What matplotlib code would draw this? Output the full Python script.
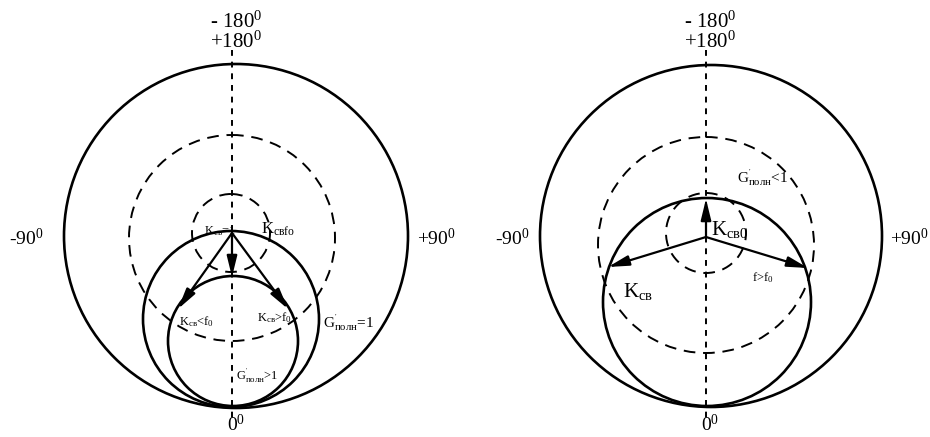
import matplotlib
matplotlib.use("Agg")
import matplotlib.pyplot as plt
from matplotlib.patches import Circle

plt.rcParams['font.family'] = ['Liberation Serif', 'DejaVu Serif']
plt.rcParams['mathtext.fontset'] = 'custom'
plt.rcParams['mathtext.rm'] = 'Liberation Serif'
plt.rcParams['mathtext.it'] = 'Liberation Serif:italic'

# left diagram (pixel units)
left_axis_x = 232
left_solid = [(236, 236, 172), (231, 319, 88), (233, 341, 65)]
left_dashed = [(232, 238, 103), (231, 233, 39)]
left_origin = (232, 233)
left_tips = [(232, 277), (178, 309), (288, 309)]

# right diagram
right_axis_x = 706
right_solid = [(711, 236, 171), (707, 302, 104)]
right_dashed = [(706, 245, 108), (706, 233, 40)]
right_origin = (706, 237)
right_tips = [(706, 199), (608, 267), (808, 268)]

fig = plt.figure(figsize=(9.3, 4.37), dpi=100)
ax = fig.add_axes([0, 0, 1, 1])
ax.set_xlim(0, 930)
ax.set_ylim(437, 0)
ax.axis('off')


def draw(axis_x, solid, dashed, origin, tips):
    ax.plot([axis_x, axis_x], [50, 418], color='black', lw=1.4,
            linestyle=(0, (3, 3)))
    for cx, cy, r in solid:
        ax.add_patch(Circle((cx, cy), r, fill=False, lw=1.9, ec='black'))
    for cx, cy, r in dashed:
        ax.add_patch(Circle((cx, cy), r, fill=False, lw=1.4, ec='black',
                            linestyle=(0, (6, 4))))
    for tx, ty in tips:
        ax.annotate('', xy=(tx, ty), xytext=origin,
                    arrowprops=dict(arrowstyle='-|>,head_length=0.9,head_width=0.22',
                                    lw=1.6, color='black', shrinkA=0, shrinkB=0,
                                    mutation_scale=14))
    ax.text(axis_x + 4, 22, '- 180$^0$', ha='center', va='center', fontsize=15)
    ax.text(axis_x + 4, 42, '+180$^0$', ha='center', va='center', fontsize=15)
    ax.text(axis_x + 4, 425, '0$^0$', ha='center', va='center', fontsize=14)


draw(left_axis_x, left_solid, left_dashed, left_origin, left_tips)
draw(right_axis_x, right_solid, right_dashed, right_origin, right_tips)

ax.text(9, 238, '-90$^0$', ha='left', va='center', fontsize=14)
ax.text(417, 238, '+90$^0$', ha='left', va='center', fontsize=14)
ax.text(495, 238, '-90$^0$', ha='left', va='center', fontsize=14)
ax.text(890, 238, '+90$^0$', ha='left', va='center', fontsize=14)

# left labels
ax.text(204, 231, 'K$_{\\mathrm{св}}$=1', ha='left', va='center', fontsize=9)
ax.text(261, 229, 'K$_{\\mathrm{свfo}}$', ha='left', va='center', fontsize=12)
ax.text(179, 322, 'K$_{\\mathrm{св}}$<f$_0$', ha='left', va='center', fontsize=9)
ax.text(257, 318, 'K$_{\\mathrm{св}}$>f$_0$', ha='left', va='center', fontsize=9)
ax.text(323, 323, "G$^{'}_{\\mathrm{полн}}$=1", ha='left', va='center', fontsize=11)
ax.text(236, 376, "G$^{'}_{\\mathrm{полн}}$>1", ha='left', va='center', fontsize=9)

# right labels
ax.text(711, 229, 'K$_{\\mathrm{св0}}$', ha='left', va='center', fontsize=15)
ax.text(623, 292, 'K$_{\\mathrm{св}}$', ha='left', va='center', fontsize=15)
ax.text(752, 278, 'f>f$_0$', ha='left', va='center', fontsize=9)
ax.text(737, 178, "G$^{'}_{\\mathrm{полн}}$<1", ha='left', va='center', fontsize=11)

fig.savefig('out.png', dpi=100)
